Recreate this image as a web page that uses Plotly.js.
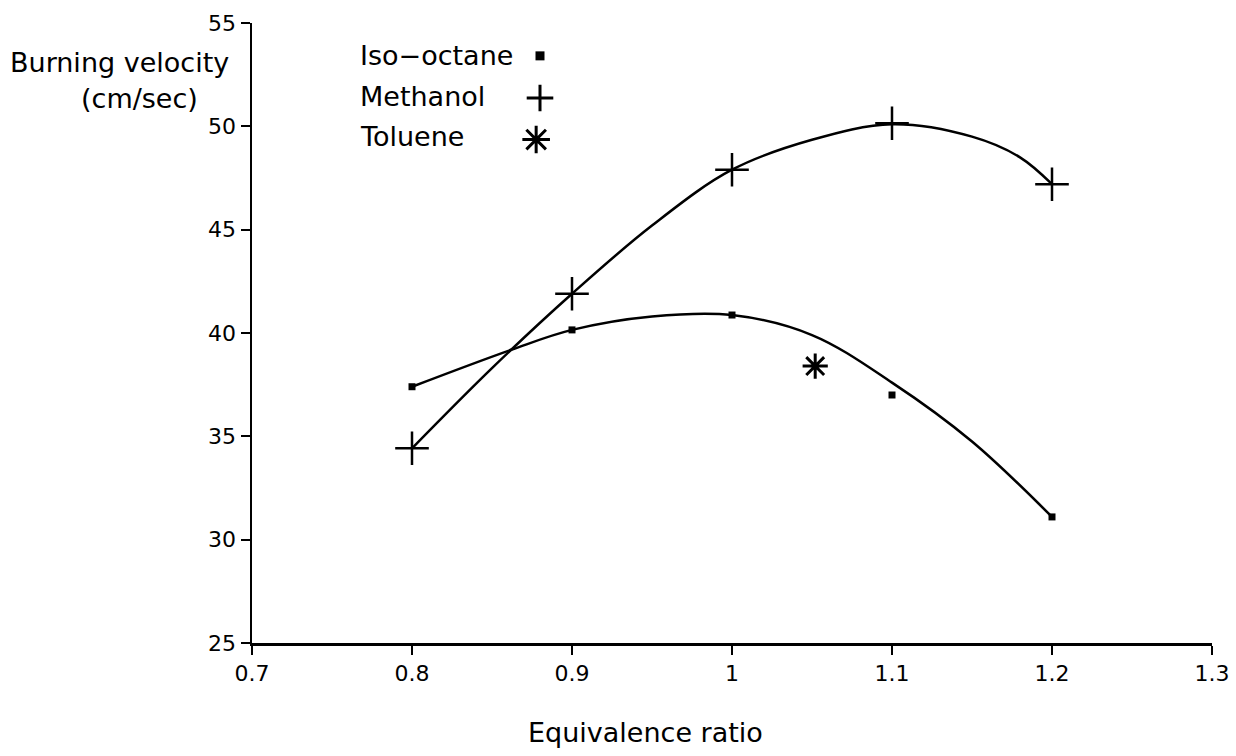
<!DOCTYPE html>
<html>
<head>
<meta charset="utf-8">
<script src="https://cdn.plot.ly/plotly-3.0.1.min.js"></script>
<style>html,body{margin:0;padding:0;background:#fff;}#chart{width:1236px;height:756px;}</style>
</head>
<body>
<div id="chart"></div>
<script>
// Measured points
const ratio = [0.8, 0.9, 1.0, 1.1, 1.2];
const isoOctane = [37.4, 40.15, 40.87, 37.0, 31.1];
const methanol = [34.42, 41.9, 47.9, 50.15, 47.2];
const tolueneX = [1.052];
const toluene = [38.4];

// Fitted curves
const isoCurveX = [0.8, 0.8625, 0.9, 0.95, 1.0, 1.05, 1.1, 1.15, 1.2];
const isoCurveY = [37.4, 39.2, 40.15, 40.8, 40.87, 39.9, 37.6, 34.75, 31.1];
const methCurveX = [0.8, 0.85, 0.9, 0.95, 1.0, 1.05, 1.1, 1.15, 1.18, 1.2];
const methCurveY = [34.42, 38.3, 41.9, 45.2, 47.9, 49.35, 50.1, 49.5, 48.5, 47.2];

const xTicks = [0.7, 0.8, 0.9, 1.0, 1.1, 1.2, 1.3];
const xTickText = ['0.7', '0.8', '0.9', '1', '1.1', '1.2', '1.3'];
const yTicks = [25, 30, 35, 40, 45, 50, 55];

const legendNames = ['Iso\u2212octane', 'Methanol', 'Toluene'];

const FONT = 'DejaVu Sans, sans-serif';
const TXT = 27;
const TICK = 22;

// legend key placement (fractions of the plot area)
const keyX = [0.300, 0.300, 0.296];
const keyY = [0.947, 0.879, 0.812];

const traces = [
  {x: isoCurveX, y: isoCurveY, mode: 'lines', line: {color: '#000', width: 2.5, shape: 'spline', smoothing: 1}, hoverinfo: 'skip'},
  {x: methCurveX, y: methCurveY, mode: 'lines', line: {color: '#000', width: 2.5, shape: 'spline', smoothing: 1}, hoverinfo: 'skip'},
  {x: ratio, y: isoOctane, mode: 'markers', name: legendNames[0], marker: {symbol: 'square', size: 7, color: '#000'}},
  {x: ratio, y: methanol, mode: 'markers', name: legendNames[1], marker: {symbol: 'cross-thin-open', size: 24, color: '#000', line: {color: '#000', width: 2.5}}},
  {x: tolueneX, y: toluene, mode: 'markers', name: legendNames[2], marker: {symbol: 'asterisk-open', size: 21, color: '#000', line: {color: '#000', width: 3}}},
  // legend keys
  {x: [keyX[0]], y: [keyY[0]], xaxis: 'x2', yaxis: 'y2', mode: 'markers', marker: {symbol: 'square', size: 9, color: '#000'}},
  {x: [keyX[1]], y: [keyY[1]], xaxis: 'x2', yaxis: 'y2', mode: 'markers', marker: {symbol: 'cross-thin-open', size: 19, color: '#000', line: {color: '#000', width: 3}}},
  {x: [keyX[2]], y: [keyY[2]], xaxis: 'x2', yaxis: 'y2', mode: 'markers', marker: {symbol: 'asterisk-open', size: 23, color: '#000', line: {color: '#000', width: 3}}}
];

const annotations = [
  {xref: 'paper', yref: 'paper', x: -0.022, y: 0.936, xanchor: 'right', yanchor: 'middle', showarrow: false,
   text: 'Burning velocity', font: {family: FONT, size: TXT, color: '#000'}},
  {xref: 'paper', yref: 'paper', x: -0.054, y: 0.878, xanchor: 'right', yanchor: 'middle', showarrow: false,
   text: '(cm/sec)', font: {family: FONT, size: TXT, color: '#000'}},
  {xref: 'paper', yref: 'paper', x: 0.41, y: -0.145, xanchor: 'center', yanchor: 'middle', showarrow: false,
   text: 'Equivalence ratio', font: {family: FONT, size: TXT, color: '#000'}}
];
const legY = [0.947, 0.881, 0.817];
legendNames.forEach((n, i) => {
  annotations.push({xref: 'paper', yref: 'paper', x: 0.110, y: legY[i], xanchor: 'left', yanchor: 'middle', showarrow: false,
    text: n, font: {family: FONT, size: TXT, color: '#000'}});
});

const layout = {
  width: 1236, height: 756,
  margin: {l: 252, r: 24, t: 23, b: 113},
  paper_bgcolor: '#fff', plot_bgcolor: '#fff',
  showlegend: false,
  font: {family: FONT, size: TICK, color: '#000'},
  xaxis: {range: [0.7, 1.3], tickvals: xTicks, ticktext: xTickText, showgrid: false, zeroline: false,
    showline: true, linecolor: '#000', linewidth: 2.5, ticks: 'outside', ticklen: 9, tickwidth: 2, tickcolor: '#000',
    tickfont: {family: FONT, size: TICK, color: '#000'}},
  yaxis: {range: [25, 55], tickvals: yTicks, showgrid: false, zeroline: false,
    showline: true, linecolor: '#000', linewidth: 2.5, ticks: 'outside', ticklen: 9, tickwidth: 2, tickcolor: '#000',
    tickfont: {family: FONT, size: TICK, color: '#000'}},
  xaxis2: {overlaying: 'x', range: [0, 1], visible: false, fixedrange: true},
  yaxis2: {overlaying: 'y', range: [0, 1], visible: false, fixedrange: true},
  annotations: annotations
};

Plotly.newPlot('chart', traces, layout, {staticPlot: true});
</script>
</body>
</html>
